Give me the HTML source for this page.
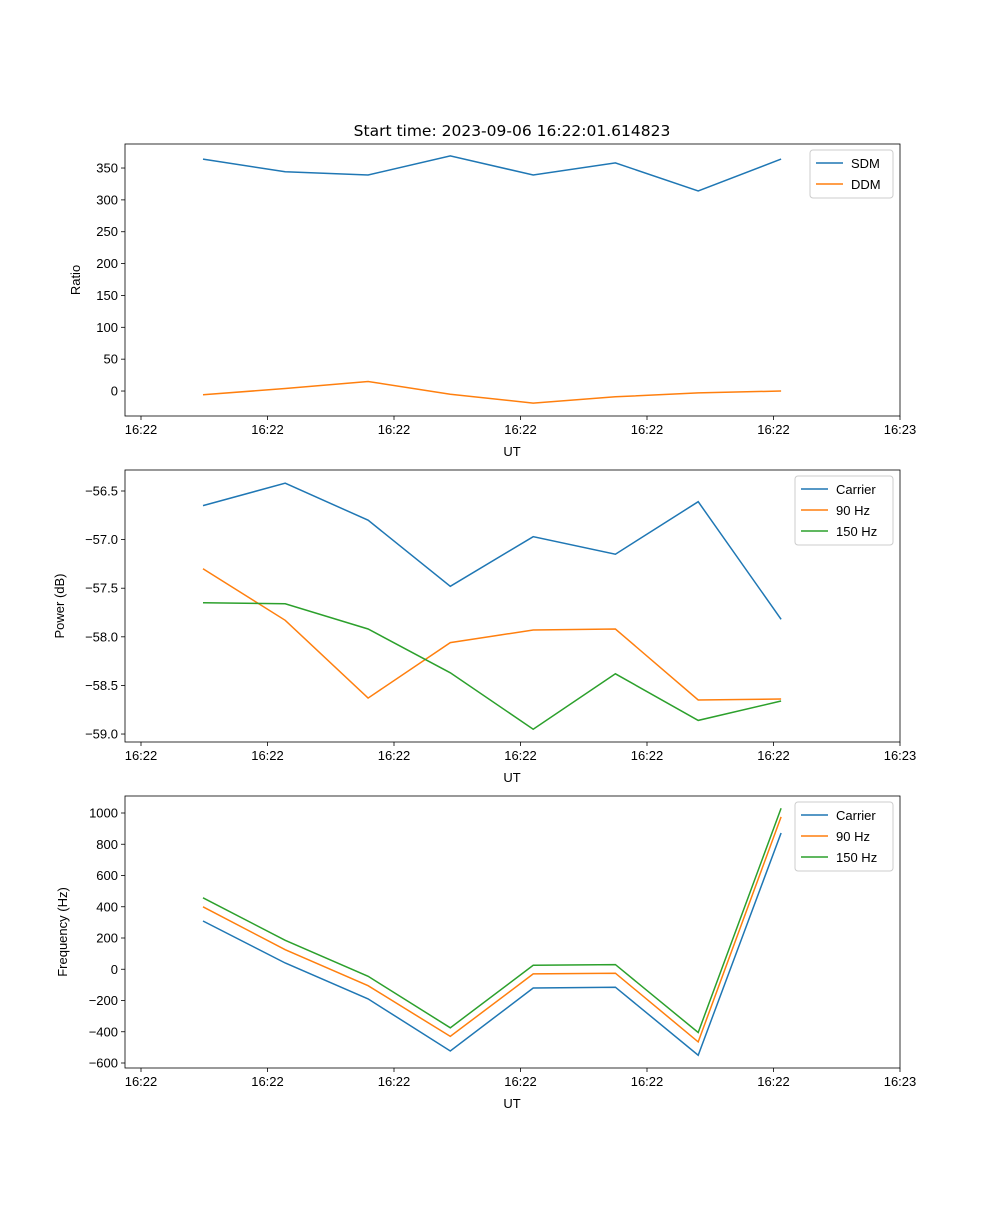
<!DOCTYPE html>
<html><head><meta charset="utf-8"><style>
body{margin:0;background:#fff;}
text{font-family:"Liberation Sans","DejaVu Sans",sans-serif;fill:#000;}
</style></head><body>
<svg id="fig" width="1000" height="1200" xmlns="http://www.w3.org/2000/svg">
<rect width="1000" height="1200" fill="#fff"/>
<text x="512" y="136" font-size="15.5" text-anchor="middle" style="font-family:'DejaVu Sans',sans-serif">Start time: 2023-09-06 16:22:01.614823</text>
</svg>
<script>
const times = [4.9, 11.4, 17.95, 24.45, 31.0, 37.5, 44.05, 50.6];
const xTicks = [0, 10, 20, 30, 40, 50, 60];
const xTickLabels = ["16:22","16:22","16:22","16:22","16:22","16:22","16:23"];
const sdm = [364, 344, 339, 369, 339, 358, 314, 364];
const ddm = [-6, 4, 15, -5, -19, -9, -3, 0];
const ratioTicks = [0, 50, 100, 150, 200, 250, 300, 350];
const powCarrier = [-56.65, -56.42, -56.80, -57.48, -56.97, -57.15, -56.61, -57.82];
const pow90 = [-57.30, -57.83, -58.63, -58.06, -57.93, -57.92, -58.65, -58.64];
const pow150 = [-57.65, -57.66, -57.92, -58.37, -58.95, -58.38, -58.86, -58.66];
const powTicks = [-59.0, -58.5, -58.0, -57.5, -57.0, -56.5];
const freqCarrier = [309, 40, -190, -523, -120, -115, -550, 872];
const freq90 = [400, 125, -105, -430, -30, -25, -465, 975];
const freq150 = [457, 185, -45, -375, 25, 30, -405, 1030];
const freqTicks = [-600, -400, -200, 0, 200, 400, 600, 800, 1000];

const NS = "http://www.w3.org/2000/svg";
const svg = document.getElementById('fig');
function mk(tag, attrs, parent){const e=document.createElementNS(NS,tag);for(const k in attrs)e.setAttribute(k,attrs[k]);(parent||svg).appendChild(e);return e;}
const L=125,R=900;
const xScale = t => 141 + t*12.65;
const C = {blue:'#1f77b4',orange:'#ff7f0e',green:'#2ca02c'};

function panel(name, top, bottom, yMin, yMax, yTicks, fmt, ylabel, series, legend){
  const g = mk('g',{});
  
  
  const y = v => bottom - (v - yMin)/(yMax - yMin)*(bottom - top);
  series.forEach(s=>{
    const p = mk('polyline',{points:s.vals.map((v,i)=>xScale(times[i]).toFixed(1)+','+y(v).toFixed(1)).join(' '),fill:'none',stroke:s.color,'stroke-width':1.5},g);
    
    
  });
  const frame = mk('rect',{x:L,y:top,width:R-L,height:bottom-top,fill:'none',stroke:'#000','stroke-width':0.8},g);
  
  
  xTicks.forEach((t,i)=>{
    const x = xScale(t);
    mk('line',{x1:x,x2:x,y1:bottom,y2:bottom+4,stroke:'#000','stroke-width':0.8},g);
    const tx = mk('text',{x:x,y:bottom+18,'font-size':13,'text-anchor':'middle'},g);
    tx.textContent = xTickLabels[i];
    
    
  });
  yTicks.forEach(v=>{
    const yy = y(v);
    mk('line',{x1:L-4,x2:L,y1:yy,y2:yy,stroke:'#000','stroke-width':0.8},g);
    const tx = mk('text',{x:L-7,y:yy+4.5,'font-size':13,'text-anchor':'end'},g);
    tx.textContent = fmt(v);
    
    
  });
  const xl = mk('text',{x:512,y:bottom+40,'font-size':13,'text-anchor':'middle'},g);
  xl.textContent='UT';
  
  
  const cy=(top+bottom)/2;
  const yl = mk('text',{x:0,y:0,'font-size':13,'text-anchor':'middle',transform:`translate(${legend.yx},${cy}) rotate(-90)`},g);
  yl.textContent=ylabel;
  
  
  const lg = mk('g',{},g);
  
  
  const lx=legend.x, ly=top+6, h=series.length*21+6;
  mk('rect',{x:lx,y:ly,width:893-lx,height:h,rx:3,fill:'#fff',stroke:'#ccc','stroke-width':1},lg);
  series.forEach((s,i)=>{
    const yy = ly+13+i*21;
    const e = mk('g',{},lg);
    
    
    mk('line',{x1:lx+6,x2:lx+33,y1:yy,y2:yy,stroke:s.color,'stroke-width':1.5},e);
    const t = mk('text',{x:lx+41,y:yy+5,'font-size':13},e);
    t.textContent=s.label;
  });
}
panel('ratio-panel',144,416,-39.2,387.7,ratioTicks,v=>String(v),'Ratio',
  [{id:'sdm',vals:sdm,color:C.blue,label:'SDM'},{id:'ddm',vals:ddm,color:C.orange,label:'DDM'}],{x:810,yx:80});
panel('power-panel',470,742,-59.082,-56.284,powTicks,v=>v.toFixed(1).replace('-','\u2212'),'Power (dB)',
  [{id:'power-carrier',vals:powCarrier,color:C.blue,label:'Carrier'},{id:'power-90hz',vals:pow90,color:C.orange,label:'90 Hz'},{id:'power-150hz',vals:pow150,color:C.green,label:'150 Hz'}],{x:795,yx:64});
panel('frequency-panel',796,1068,-632,1108.8,freqTicks,v=>String(v).replace('-','\u2212'),'Frequency (Hz)',
  [{id:'freq-carrier',vals:freqCarrier,color:C.blue,label:'Carrier'},{id:'freq-90hz',vals:freq90,color:C.orange,label:'90 Hz'},{id:'freq-150hz',vals:freq150,color:C.green,label:'150 Hz'}],{x:795,yx:67});
</script>
</body></html>
